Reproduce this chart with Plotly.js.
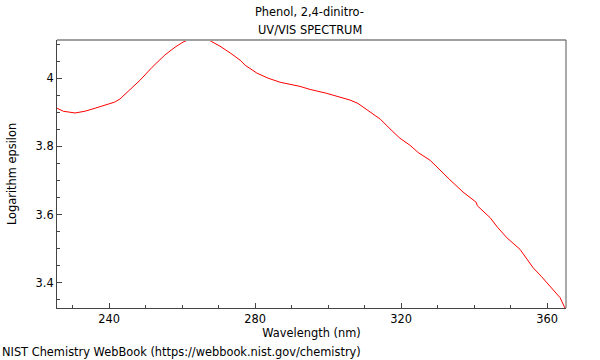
<!DOCTYPE html>
<html>
<head>
<meta charset="utf-8">
<script src="https://cdn.plot.ly/plotly-3.0.1.min.js"></script>
<style>html,body{margin:0;padding:0;background:#fff;}#chart{width:600px;height:360px;}</style>
</head>
<body>
<div id="chart"></div>
<script>
const wavelength = [225.75, 227.5, 230.7, 233.4, 236.2, 238.9, 241.6, 243.0, 245.4, 248.5, 251.8, 255.3, 258.1, 260.3, 261.6, 262.5, 264.0, 265.5, 267.0, 268.0, 270.4, 273.2, 275.9, 277.3, 280.5, 283.6, 286.9, 292.3, 295.1, 299.5, 303.8, 306.0, 308.2, 310.1, 312.1, 314.3, 317.8, 319.7, 322.5, 324.7, 328.0, 330.5, 333.4, 337.0, 340.6, 340.9, 344.4, 346.5, 349.0, 352.6, 356.2, 358.5, 360.8, 363.6, 364.9];
const logEpsilon = [3.912, 3.903, 3.898, 3.903, 3.912, 3.921, 3.930, 3.939, 3.962, 3.994, 4.032, 4.068, 4.091, 4.106, 4.112, 4.114, 4.115, 4.115, 4.114, 4.108, 4.094, 4.074, 4.053, 4.038, 4.015, 4.000, 3.988, 3.976, 3.967, 3.956, 3.944, 3.936, 3.926, 3.912, 3.897, 3.880, 3.843, 3.824, 3.803, 3.782, 3.759, 3.732, 3.702, 3.666, 3.636, 3.626, 3.591, 3.562, 3.532, 3.498, 3.444, 3.418, 3.391, 3.356, 3.326];
const titleLines = ["Phenol, 2,4-dinitro-", "UV/VIS SPECTRUM"];
const xLabel = "Wavelength (nm)";
const yLabel = "Logarithm epsilon";
const footer = "NIST Chemistry WebBook (https://webbook.nist.gov/chemistry)";

const font = {family: "DejaVu Sans", size: 11.4, color: "#000"};
const trace = {
  x: wavelength, y: logEpsilon, type: "scatter", mode: "lines",
  line: {color: "#ff0000", width: 1}, hoverinfo: "skip"
};
const layout = {
  width: 600, height: 360,
  margin: {l: 57, r: 34, t: 40, b: 52, pad: 0},
  paper_bgcolor: "#fff", plot_bgcolor: "#fff",
  font: font,
  showlegend: false,
  xaxis: {
    range: [225.75, 365.2], autorange: false,
    showgrid: false, zeroline: false,
    showline: true, linecolor: "#444", linewidth: 1,
    ticks: "inside", ticklen: 5, tickcolor: "#444",
    tick0: 240, dtick: 40,
    minor: {ticks: "inside", ticklen: 3, dtick: 10, tick0: 240, tickcolor: "#444", showgrid: false},
    tickfont: font,
    title: {text: xLabel, font: font, standoff: 3}
  },
  yaxis: {
    range: [3.326, 4.112], autorange: false,
    showgrid: false, zeroline: false,
    showline: true, linecolor: "#444", linewidth: 1,
    ticks: "inside", ticklen: 5, tickcolor: "#444",
    tick0: 3.4, dtick: 0.2,
    minor: {ticks: "inside", ticklen: 3, dtick: 0.05, tick0: 3.4, tickcolor: "#444", showgrid: false},
    tickfont: font,
    title: {text: yLabel, font: font, standoff: 16}
  },
  shapes: [
    {type: "line", xref: "paper", yref: "paper", x0: 0, x1: 1, y0: 1, y1: 1, line: {color: "#a0a0a0", width: 2}},
    {type: "line", xref: "paper", yref: "paper", x0: 1, x1: 1, y0: 0, y1: 1, line: {color: "#555", width: 1}}
  ],
  annotations: [
    {text: titleLines[0], xref: "paper", yref: "paper", x: 0.497, xanchor: "center", y: (308 - 12) / 268, yanchor: "middle", showarrow: false, font: font},
    {text: titleLines[1], xref: "paper", yref: "paper", x: 0.497, xanchor: "center", y: (308 - 30) / 268, yanchor: "middle", showarrow: false, font: font},
    {text: footer, xref: "paper", yref: "paper", x: -57 / 509, xanchor: "left", y: -44 / 268, yanchor: "middle", showarrow: false, font: font}
  ]
};
Plotly.newPlot("chart", [trace], layout, {displayModeBar: false, staticPlot: true});
</script>
</body>
</html>
